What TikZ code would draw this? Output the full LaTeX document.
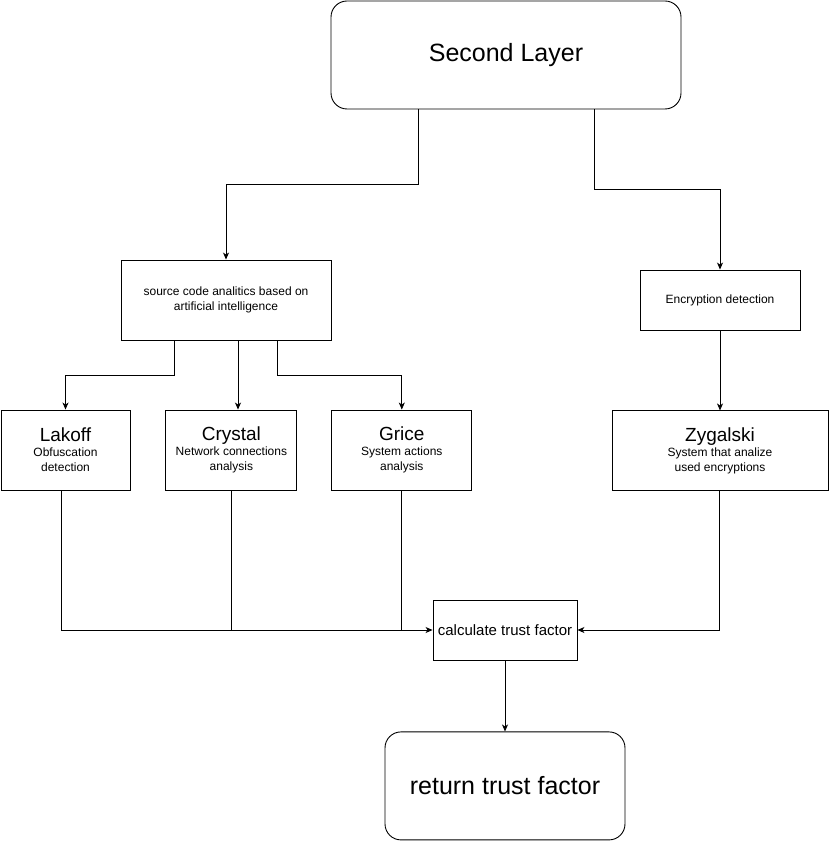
\documentclass[tikz,border=0pt]{standalone}
\usepackage{fontspec}
\setmainfont{Liberation Sans}
\usetikzlibrary{positioning, arrows.meta}

\begin{document}
\begin{tikzpicture}[
        x=1pt, y=1pt,
        node distance=35pt,
        block/.style={
            rectangle, draw=black, line width=0.9pt, fill=white,
            align=center, inner sep=2pt,
            font=\fontsize{12}{15}\selectfont
        },
        bigblock/.style={
            block, rounded corners=16pt,
            font=\fontsize{25}{29}\selectfont
        },
        tool/.style={
            block, minimum height=80pt,
            font=\fontsize{12}{15}\selectfont
        },
        line/.style={draw, line width=0.8pt},
        arr/.style={line, -{Stealth[length=7pt,width=6pt,inset=2pt]}}
    ]

    \useasboundingbox (0,0) rectangle (829,-842);

    \node [bigblock, minimum width=350pt, minimum height=108pt] (layer2) at (506,-55) {Second Layer};

    \node [block, minimum width=210pt, minimum height=80pt] (source) at (226,-300) {
        source code analitics based on \\
        artificial intelligence
    };

    \node [block, minimum width=160pt, minimum height=60pt] (crypto) at (720,-300) {Encryption detection};

    \node [tool, minimum width=129pt] (lakoff) at (65.5,-450) {
        {\fontsize{19}{23}\selectfont Lakoff} \\
        Obfuscation \\
        detection
    };

    \node [tool, minimum width=131pt, right=35pt of lakoff] (crystal) {
        {\fontsize{19}{23}\selectfont Crystal} \\
        Network connections \\
        analysis
    };

    \node [tool, minimum width=140pt, right=34pt of crystal] (grice) {
        {\fontsize{19}{23}\selectfont Grice} \\
        System actions \\
        analysis
    };

    \node [tool, minimum width=216pt, below=80pt of crypto] (zygalski) {
        {\fontsize{19}{23}\selectfont Zygalski} \\
        System that analize \\
        used encryptions
    };

    \node [block, minimum width=144pt, minimum height=60pt,
        font=\fontsize{15}{18}\selectfont] (calc) at (505,-630) {calculate trust factor};

    \node [bigblock, minimum width=240pt, minimum height=108pt, below=71pt of calc] (ret) {return trust factor};

    % second layer split
    \draw [arr] ([xshift=-88pt]layer2.south) -- ++(0,-75) -| (source.north);
    \draw [arr] ([xshift=88pt]layer2.south) -- ++(0,-80) -| (crypto.north);

    % analitics to tools
    \draw [arr] ([xshift=-52pt]source.south) -- ++(0,-35) -| (lakoff.north);
    \draw [arr] ([xshift=12pt]source.south) -- ([xshift=12pt]source.south |- crystal.north);
    \draw [arr] ([xshift=51pt]source.south) -- ++(0,-35) -| (grice.north);
    \draw [arr] (crypto) -- (zygalski);

    % results
    \draw [arr] ([xshift=-4.5pt]lakoff.south) |- (calc.west);
    \draw [line] (crystal.south) -- (crystal.south |- calc.west);
    \draw [line] (grice.south) -- (grice.south |- calc.west);
    \draw [arr] ([xshift=-1pt]zygalski.south) |- (calc.east);
    \draw [arr] (calc) -- (ret);

\end{tikzpicture}
\end{document}
